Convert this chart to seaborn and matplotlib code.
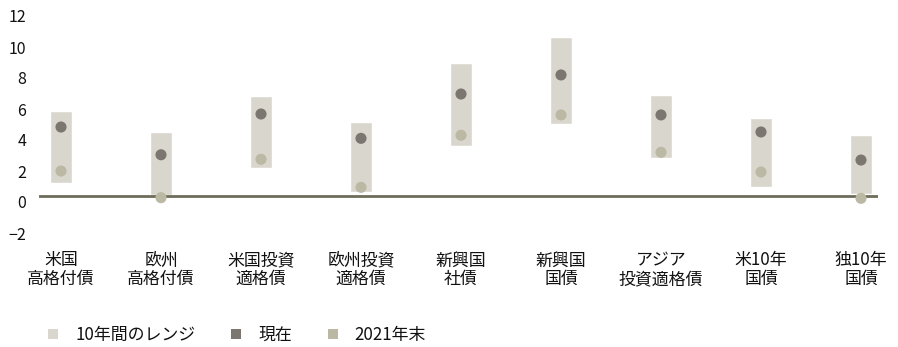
import matplotlib
matplotlib.use("Agg")
import matplotlib.pyplot as plt
import matplotlib.transforms as mtransforms
from matplotlib.lines import Line2D
import numpy as np
import pandas as pd
import seaborn as sns

# categories (two-line labels)
categories = ["米国\n高格付債", "欧州\n高格付債", "米国投資\n適格債", "欧州投資\n適格債",
              "新興国\n社債", "新興国\n国債", "アジア\n投資適格債", "米10年\n国債", "独10年\n国債"]

# 10-year range (low / high), current and end-2021 values
range_low = [0.86, 0.05, 1.83, 0.28, 3.25, 4.67, 2.47, 0.60, 0.15]
range_high = [5.48, 4.13, 6.43, 4.77, 8.58, 10.26, 6.52, 5.03, 3.94]
current = [4.45, 2.66, 5.29, 3.72, 6.58, 7.81, 5.23, 4.13, 2.32]
end_2021 = [1.61, -0.11, 2.37, 0.56, 3.92, 5.23, 2.82, 1.55, -0.15]

yticks = [-2, 0, 2, 4, 6, 8, 10, 12]
legend_labels = ["10年間のレンジ", "現在", "2021年末"]

range_color = "#d9d6ce"
current_color = "#7b7770"
end_color = "#bbb9a4"
zero_color = "#6e6c5a"
text_color = "#111111"

sns.set_style("white")
plt.rcParams['font.family'] = ['Noto Sans CJK JP', 'DejaVu Sans']

df = pd.DataFrame({"pos": np.arange(len(categories)), "cat": categories,
                   "low": range_low, "high": range_high,
                   "current": current, "end_2021": end_2021})

fig = plt.figure(figsize=(8.98, 3.47), dpi=100)
ax = fig.add_axes([39 / 898, 1 - 234.75 / 347, (878 - 39) / 898, (234.75 - 2.25) / 347])

# range boxes
ax.bar(df["pos"], df["high"] - df["low"], bottom=df["low"], width=0.22,
       color=range_color, zorder=1)

# zero line
ax.axhline(0, color=zero_color, lw=2, zorder=2)

# dots
sns.scatterplot(data=df, x="pos", y="end_2021", ax=ax, s=64, color=end_color,
                edgecolor="none", zorder=3, legend=False)
sns.scatterplot(data=df, x="pos", y="current", ax=ax, s=64, color=current_color,
                edgecolor="none", zorder=3, legend=False)

ax.set_xlim(-0.22, 8.17)
ax.set_ylim(-2.5, 12.5)
ax.set_yticks(yticks)
ax.set_yticklabels([f"{t}".replace("-", "\u2212") for t in yticks])
ax.set_xticks(df["pos"])
ax.set_xticklabels(categories, linespacing=1.05)
ax.set_xlabel("")
ax.set_ylabel("")
ax.tick_params(axis="y", length=0, pad=9, labelsize=11.5, labelcolor=text_color)
ax.tick_params(axis="x", length=0, pad=12, labelsize=12.2, labelcolor=text_color)
for lab in ax.get_yticklabels():
    lab.set_transform(lab.get_transform() + mtransforms.ScaledTranslation(0, -6 / 100, fig.dpi_scale_trans))
for s in ax.spines.values():
    s.set_visible(False)

handles = [Line2D([], [], marker="s", ls="none", markersize=7.5, color=c, markeredgewidth=0)
           for c in [range_color, current_color, end_color]]
fig.legend(handles, legend_labels, ncol=3, loc="center left", bbox_to_anchor=(0.05, 1 - 335 / 347),
           frameon=False, fontsize=12.2, handletextpad=0.8, columnspacing=1.9,
           handlelength=1.0, borderpad=0, borderaxespad=0, labelcolor=text_color)

fig.savefig("out.png", dpi=100)
